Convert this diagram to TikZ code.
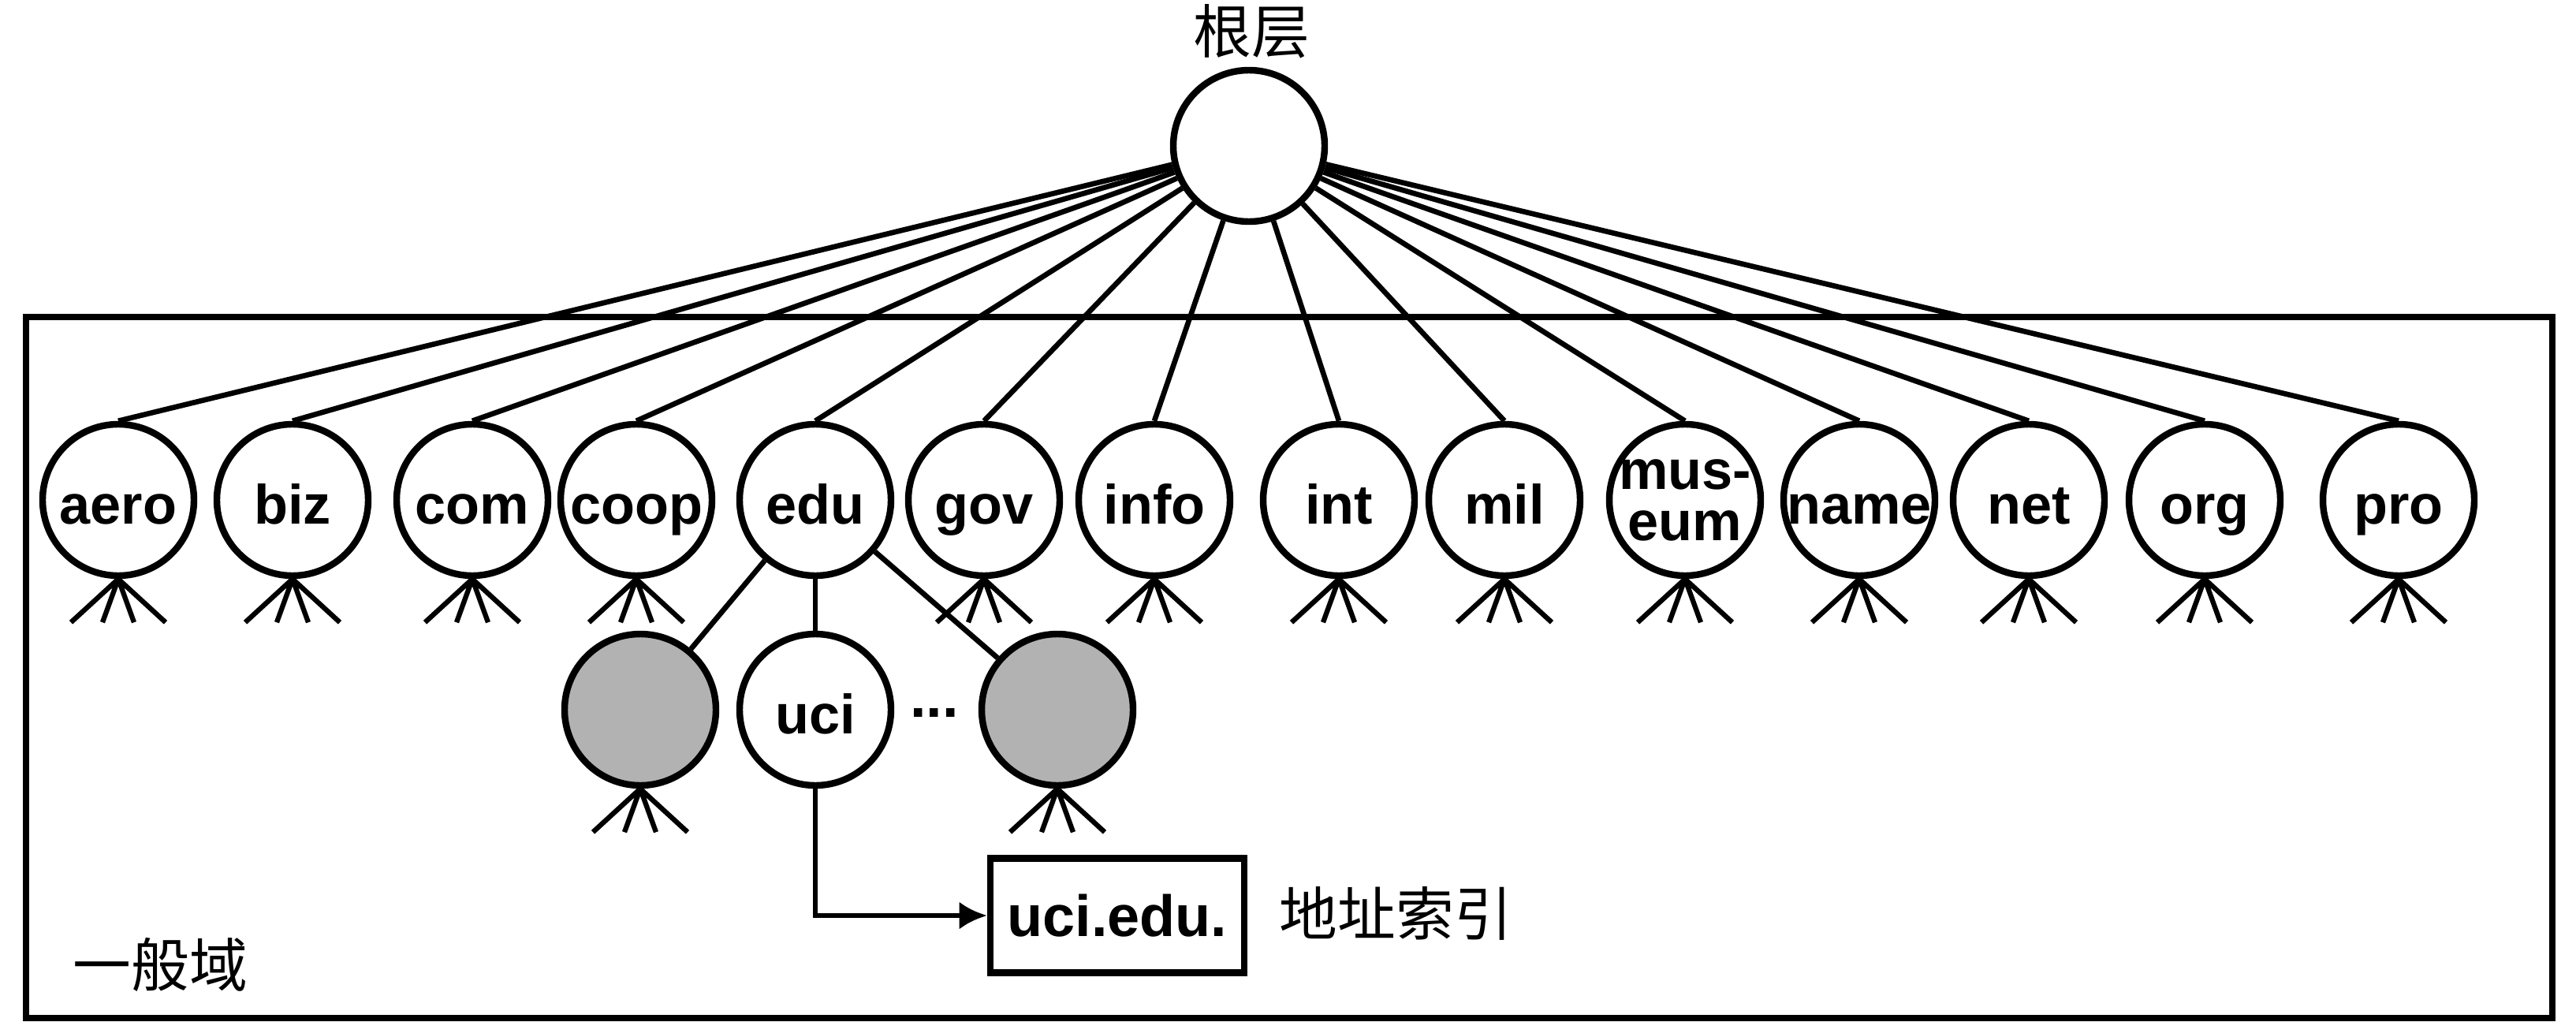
\documentclass[tikz,border=0pt]{standalone}
\usepackage{fontspec}
\usepackage{tikz}
\usetikzlibrary{arrows.meta}
\newfontfamily\cjk{Noto Sans CJK SC}
\newfontfamily\domfont{Liberation Sans}

\begin{document}
\begin{tikzpicture}[
  dom/.style={circle, draw, line width=2.4pt, minimum size=1.92cm, inner sep=-0.2cm,
    align=center, font=\domfont\bfseries\fontsize{20}{18.5}\selectfont},
  tld/.style={dom, text height=0.6cm, text depth=0cm},
  grey/.style={dom, fill=black!30},
  branch/.style={line width=1.9pt},
  leg/.style={line width=1.8pt},
  hanzi/.style={font=\cjk\fontsize{21}{24}\selectfont, inner sep=0pt}
]
  \useasboundingbox (0,0) rectangle (32.67,-12.96);
  \draw[line width=2.2pt] (0.33,-4.02) rectangle (32.37,-12.91);

  \node[dom] (root) at (15.84,-1.85) {};
  \node[hanzi] (rootname) at (15.87,-0.40) {根层};

  \node[tld] (aero) at (1.50,-6.34) {aero};
  \node[tld] (biz) at (3.71,-6.34) {biz};
  \node[tld] (com) at (5.99,-6.34) {com};
  \node[tld] (coop) at (8.07,-6.34) {coop};
  \node[tld] (edu) at (10.34,-6.34) {edu};
  \node[tld] (gov) at (12.48,-6.34) {gov};
  \node[tld] (info) at (14.64,-6.34) {info};
  \node[tld] (int) at (16.98,-6.34) {int};
  \node[tld] (mil) at (19.08,-6.34) {mil};
  \node[dom] (museum) at (21.37,-6.34) {mus-\\eum};
  \node[tld] (name) at (23.58,-6.34) {name};
  \node[tld] (net) at (25.73,-6.34) {net};
  \node[tld] (org) at (27.96,-6.34) {org};
  \node[tld] (pro) at (30.42,-6.34) {pro};

  \node[grey] (left) at (8.12,-9.00) {};
  \node[tld] (uci) at (10.34,-9.00) {uci};
  \node[grey] (right) at (13.41,-9.00) {};
  \node[font=\domfont\bfseries\fontsize{21}{24}\selectfont] (dots) at (11.85,-9.04) {...};

  \node[draw, line width=2.4pt, minimum width=3.22cm, minimum height=1.45cm, inner sep=0pt,
    font=\domfont\bfseries\fontsize{21}{24}\selectfont] (addr) at (14.17,-11.61) {uci.edu.};
  \node[hanzi, anchor=west] (addrname) at (16.22,-11.58) {地址索引};
  \node[hanzi, anchor=west] (general) at (0.92,-12.23) {一般域};

  \foreach \n in {aero,biz,com,coop,edu,gov,info,int,mil,museum,name,net,org,pro}
    \draw[branch] (root) -- (\n.north);
  \foreach \n in {left,uci,right}
    \draw[branch] (edu) -- (\n);
  \foreach \n in {aero,biz,com,coop,gov,info,int,mil,museum,name,net,org,pro,left,right}
    \draw[leg] (\n.south) -- ++(-0.6,-0.55) (\n.south) -- ++(-0.2,-0.55)
               (\n.south) -- ++(0.2,-0.55) (\n.south) -- ++(0.6,-0.55);
  \draw[branch, -{Latex[length=10pt,width=10pt]}] (uci) |- (addr);
\end{tikzpicture}
\end{document}
